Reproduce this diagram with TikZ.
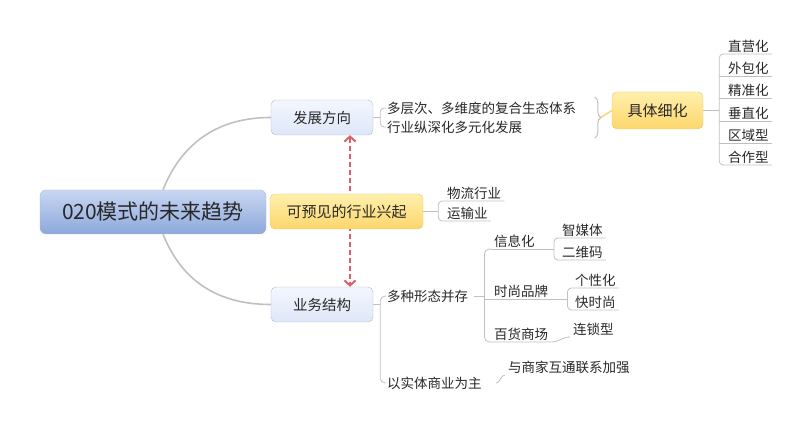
\documentclass[tikz,border=0pt]{standalone}
\usepackage{fontspec}
\setmainfont{Noto Sans CJK SC}
\usetikzlibrary{positioning, calc, arrows.meta, decorations.pathreplacing}
\definecolor{rootTop}{RGB}{200,215,242}
\definecolor{rootBot}{RGB}{140,168,218}
\definecolor{topicTop}{RGB}{243,247,254}
\definecolor{topicBot}{RGB}{222,231,248}
\definecolor{topicLine}{RGB}{178,186,204}
\definecolor{hotTop}{RGB}{255,240,172}
\definecolor{hotBot}{RGB}{252,214,108}
\definecolor{hotLine}{RGB}{232,200,110}
\definecolor{lineGray}{RGB}{192,192,192}
\definecolor{relRed}{RGB}{218,96,106}
\definecolor{textDark}{RGB}{40,40,40}

\begin{document}
\begin{tikzpicture}[x=1pt, y=-1pt,
    root/.style={rectangle, rounded corners=6pt, draw=topicLine, top color=rootTop, bottom color=rootBot, minimum width=226pt, minimum height=44pt, font=\fontsize{21}{24}\selectfont, text=textDark},
    topic/.style={rectangle, rounded corners=5pt, draw=topicLine, top color=topicTop, bottom color=topicBot, minimum width=102pt, minimum height=35pt, font=\fontsize{14.5}{17}\selectfont, text=textDark},
    hot/.style={rectangle, rounded corners=5pt, draw=hotLine, top color=hotTop, bottom color=hotBot, minimum height=35pt, font=\fontsize{15}{18}\selectfont, text=textDark},
    leaf/.style={anchor=south west, inner xsep=3pt, inner ysep=1.5pt, font=\fontsize{13.5}{16}\selectfont, text=textDark},
    item/.style={anchor=west, inner sep=0pt, font=\fontsize{13.5}{16}\selectfont, text=textDark},
    branch/.style={draw=lineGray, line width=0.8pt},
    trunk/.style={draw=lineGray, line width=1.6pt},
    tipline/.style={draw=hotBot, line width=1.5pt},
    rel/.style={draw=relRed, dash pattern=on 5pt off 3pt, line width=2pt, {Straight Barb[length=5pt,width=11pt]}-{Straight Barb[length=5pt,width=11pt]}}
  ]
  \useasboundingbox (0,0) rectangle (810,427);
  %
  % === root and main topics ===
  \node[root] (root) at (153,212) {020模式的未来趋势};
  \node[topic] (dev) at (322,117.5) {发展方向};
  \node[topic] (biz) at (322,304.5) {业务结构};
  \draw[rel] ([xshift=28pt]dev.south) -- ([xshift=28pt]biz.north);
  \node[hot, minimum width=153pt] (rise) at (346.5,211.5) {可预见的行业兴起};
  %
  \draw[trunk] ([xshift=10pt]root.north) .. controls +(18,-45) and +(-55,0) .. (dev.west);
  \draw[trunk] ([xshift=10pt]root.south) .. controls +(18,45) and +(-55,0) .. (biz.west);
  %
  % === 发展方向 ===
  \node[item] (dev1) at (387,108) {多层次、多维度的复合生态体系};
  \node[item] (dev2) at (387,127) {行业纵深化多元化发展};
  \coordinate (devbar) at ($(dev.east)+(7,0)$);
  \draw[branch] (dev.east) -- (devbar);
  \draw[branch, rounded corners=4pt] ([xshift=-1pt]dev1.west) -| (devbar) |- ([xshift=-1pt]dev2.west);
  %
  % brace to 具体细化
  \node[hot, minimum width=91pt, minimum height=37pt] (detail) at (657.5,110.5) {具体细化};
  \coordinate (braceTop) at ($(detail.west)+(-17,-13.5)$);
  \coordinate (braceBot) at ($(detail.west)+(-17,27.5)$);
  \draw[branch, line width=1pt, decorate, decoration={brace, amplitude=6pt}] (braceTop) -- (braceBot);
  \draw[tipline] ($(braceTop)!0.5!(braceBot)+(6,0)$) -- (detail.west);
  %
  \node[leaf] (d1) at (725,54) {直营化};
  \node[leaf] (d2) at (725,76) {外包化};
  \node[leaf] (d3) at (725,98) {精准化};
  \node[leaf] (d4) at (725,121) {垂直化};
  \node[leaf] (d5) at (725,143) {区域型};
  \node[leaf] (d6) at (725,165) {合作型};
  \coordinate (detbar) at ($(detail.east)+(16,0)$);
  \draw[branch] (detail.east) -- (detbar);
  \draw[branch, rounded corners=4pt] (d1.south east) -| (detbar) |- (d6.south east);
  \foreach \n in {d2,d3,d4,d5} \draw[branch] (\n.south east) -- (\n.south east -| detbar);
  %
  % === 可预见的行业兴起 ===
  \node[leaf] (r1) at (444,201) {物流行业};
  \node[leaf] (r2) at (444,221) {运输业};
  \coordinate (risebar) at ($(rise.east)+(15,0)$);
  \draw[branch] (rise.east) -- (risebar);
  \draw[branch, rounded corners=4pt] (r1.south east) -| (risebar) |- (r2.south east);
  %
  % === 业务结构 ===
  \node[item] (b1) at (387,296) {多种形态并存};
  \node[item] (b2) at (387,383) {以实体商业为主};
  \coordinate (bizbar) at ($(biz.east)+(7,0)$);
  \draw[branch] (biz.east) -- (bizbar);
  \draw[branch, rounded corners=5pt] ([xshift=-1pt]b1.west) -| (bizbar) |- ([xshift=-1pt]b2.west);
  %
  \node[leaf] (m1) at (491,249) {信息化};
  \node[leaf] (m2) at (491,299) {时尚品牌};
  \node[leaf] (m3) at (491,342) {百货商场};
  \coordinate (formbar) at ($(b1.east)+(16,0)$);
  \draw[branch] ([xshift=6pt]b1.east) -- (formbar);
  \draw[branch, rounded corners=5pt] (m1.south west) -| (formbar) |- (m3.south west);
  \draw[branch] (m2.south west) -- (m2.south west -| formbar);
  %
  \coordinate (infobar) at ($(m1.south east)+(16,0)$);
  \draw[branch] (m1.south west) -- (infobar);
  \node[leaf] (i1) at (559,238) {智媒体};
  \node[leaf] (i2) at (559,260) {二维码};
  \draw[branch, rounded corners=4pt] (i1.south east) -| (infobar) |- (i2.south east);
  %
  \coordinate (fashbar) at ($(m2.south east)+(16,0)$);
  \draw[branch] (m2.south west) -- (fashbar);
  \node[leaf] (f1) at (572,288) {个性化};
  \node[leaf] (f2) at (572,310) {快时尚};
  \draw[branch, rounded corners=4pt] (f1.south east) -| (fashbar) |- (f2.south east);
  %
  \node[leaf] (c1) at (570,337) {连锁型};
  \draw[branch] (m3.south west) -- (m3.south east) to[out=0, in=180] (c1.south west);
  %
  \node[leaf] (s1) at (505,375) {与商家互通联系加强};
  \draw[branch] ([xshift=14pt]b2.east) to[out=0, in=180] (s1.south west);
\end{tikzpicture}
\end{document}
